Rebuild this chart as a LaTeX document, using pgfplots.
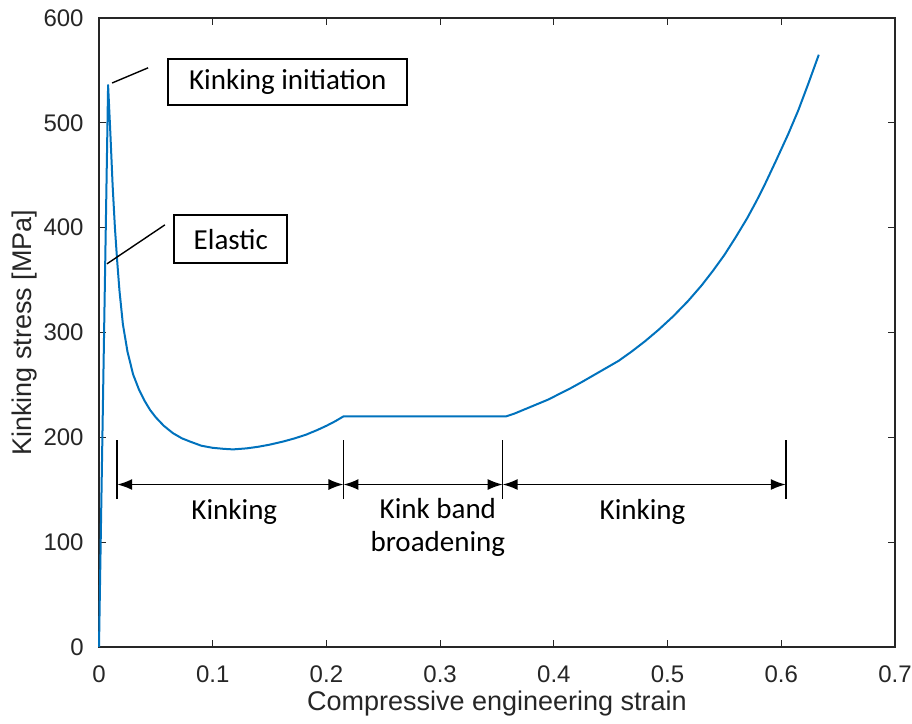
\documentclass[border=0pt]{standalone}
\usepackage{fontspec}
\setmainfont{Liberation Sans}
\newfontfamily\calib{Carlito}
\usepackage{pgfplots}
\pgfplotsset{compat=1.18}
\usetikzlibrary{arrows.meta}
\definecolor{mblue}{HTML}{0072BD}
\definecolor{mgray}{HTML}{262626}

\begin{document}
\begin{tikzpicture}
\begin{axis}[
  at={(0,0)}, anchor=south west,
  scale only axis, width=398pt, height=314.5pt,
  xmin=0, xmax=0.7, ymin=0, ymax=600,
  xtick={0,0.1,0.2,0.3,0.4,0.5,0.6,0.7},
  xticklabels={0,0.1,0.2,0.3,0.4,0.5,0.6,0.7},
  ytick={0,100,200,300,400,500,600},
  tick pos=both, tick align=inside,
  major tick length=3.5pt,
  axis line style={mgray, line width=0.6pt},
  every tick/.style={mgray, line width=0.6pt},
  /pgf/number format/assume math mode=true,
  tick label style={font=\fontsize{12}{14}\selectfont, text=mgray},
  xticklabel style={anchor=base, inner sep=0pt, yshift=-17.5pt},
  yticklabel style={anchor=east, inner sep=0pt, xshift=-7.5pt},
  xlabel={Compressive engineering strain},
  ylabel={Kinking stress [MPa]},
  label style={font=\fontsize{13.5}{16}\selectfont, text=mgray},
  xlabel style={at={(axis description cs:0.5,-0.1002)}, anchor=base},
  ylabel style={at={(axis description cs:-0.093,0.5)}, anchor=center},
  clip=false,
]
\addplot[mblue, line width=1pt, line join=round] coordinates {
(0,0) (0.008,536) (0.010,490) (0.012,440) (0.014,400) (0.016,368) (0.018,340)
(0.021,308) (0.025,282) (0.030,260) (0.035,246) (0.040,235) (0.045,226)
(0.050,219) (0.057,211) (0.065,204) (0.073,199) (0.080,196) (0.090,192)
(0.100,190) (0.110,189) (0.118,188.5) (0.130,189.5) (0.140,191) (0.150,193)
(0.162,196) (0.172,199) (0.182,202.5) (0.192,207) (0.200,211) (0.208,215.5)
(0.215,220) (0.358,220)
(0.365,222.5) (0.375,227) (0.385,231.5) (0.395,236) (0.405,241.5) (0.415,247)
(0.425,253) (0.433,258) (0.445,265.5) (0.457,273) (0.468,281.5) (0.480,291.5)
(0.492,302.5) (0.505,315.5) (0.518,330) (0.530,345) (0.540,359) (0.550,374)
(0.560,391) (0.570,409) (0.578,425) (0.585,440) (0.595,463) (0.606,489)
(0.615,512) (0.624,538) (0.633,565)
};
% pointer lines
\draw[black, line width=0.7pt] (axis cs:0.0115,538) -- (axis cs:0.0432,552.5);
\draw[black, line width=0.7pt] (axis cs:0.007,365.5) -- (axis cs:0.058,402.7);
% boxes
\node[draw=black, line width=0.9pt, fill=white, inner sep=0pt, minimum width=119.5pt, minimum height=23pt,
  font=\calib\fontsize{14.5}{17}\selectfont] at (axis cs:0.166,539) {Kinking initiation};
\node[draw=black, line width=0.9pt, fill=white, inner sep=0pt, minimum width=56.5pt, minimum height=24pt,
  font=\calib\fontsize{14.5}{17}\selectfont] at (axis cs:0.1159,389) {Elastic};
% bars
\pgfplotsinvokeforeach{0.016,0.215,0.355,0.604}{
  \draw[black, line width=0.8pt] (axis cs:#1,141) -- (axis cs:#1,197);
}
% arrows
\draw[black, line width=0.8pt, {Latex[length=7.5pt,width=5.5pt]}-{Latex[length=7.5pt,width=5.5pt]}] (axis cs:0.016,155) -- (axis cs:0.215,155);
\draw[black, line width=0.8pt, {Latex[length=7.5pt,width=5.5pt]}-{Latex[length=7.5pt,width=5.5pt]}] (axis cs:0.215,155) -- (axis cs:0.355,155);
\draw[black, line width=0.8pt, {Latex[length=7.5pt,width=5.5pt]}-{Latex[length=7.5pt,width=5.5pt]}] (axis cs:0.355,155) -- (axis cs:0.604,155);
% labels
\node[font=\calib\fontsize{14.5}{17}\selectfont] at (axis cs:0.119,129) {Kinking};
\node[font=\calib\fontsize{14.5}{16.5}\selectfont, align=center] at (axis cs:0.298,114.5) {Kink band\\broadening};
\node[font=\calib\fontsize{14.5}{17}\selectfont] at (axis cs:0.478,129) {Kinking};
\end{axis}
\pgfresetboundingbox
\path[use as bounding box] (-49.5pt,-38.5pt) rectangle (406.5pt,323.5pt);
\end{tikzpicture}
\end{document}
